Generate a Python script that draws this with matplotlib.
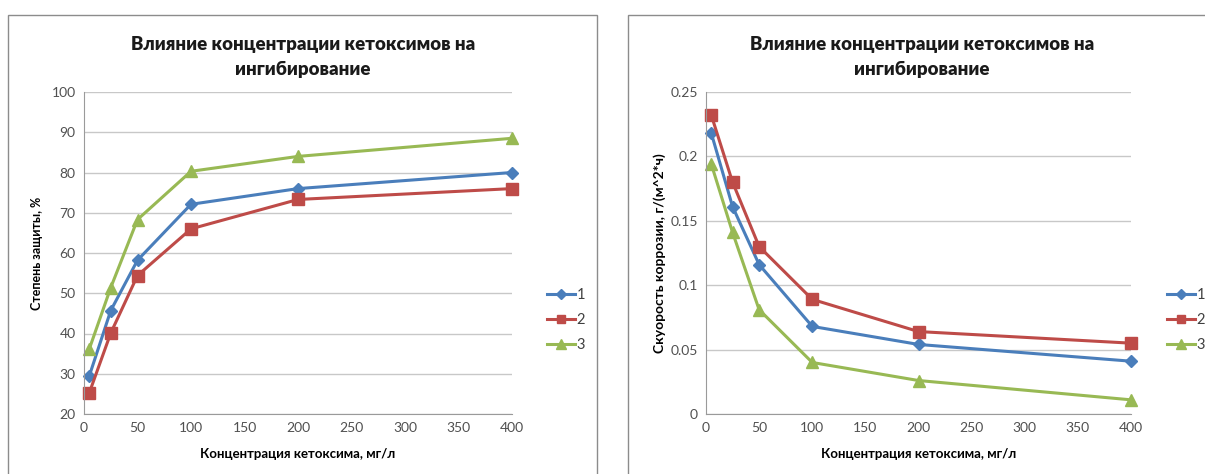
import matplotlib
matplotlib.use("Agg")
import matplotlib.pyplot as plt
from matplotlib.patches import Rectangle

plt.rcParams['font.family'] = ['Lato', 'DejaVu Sans']

# Concentration of ketoxime, mg/l
conc = [5, 25, 50, 100, 200, 400]

# Degree of protection, %
protect_1 = [29.5, 45.7, 58.2, 72.1, 76.0, 80.0]
protect_2 = [25.3, 40.1, 54.4, 66.0, 73.3, 76.0]
protect_3 = [36.2, 51.4, 68.3, 80.3, 84.0, 88.5]

# Corrosion rate, g/(m^2*h)
rate_1 = [0.218, 0.161, 0.116, 0.068, 0.054, 0.041]
rate_2 = [0.232, 0.180, 0.130, 0.089, 0.064, 0.055]
rate_3 = [0.194, 0.141, 0.081, 0.040, 0.026, 0.011]

series_names = ["1", "2", "3"]
x_ticks = [0, 50, 100, 150, 200, 250, 300, 350, 400]
protect_ticks = [20, 30, 40, 50, 60, 70, 80, 90, 100]
rate_ticks = [0, 0.05, 0.1, 0.15, 0.2, 0.25]
rate_tick_labels = ["0", "0.05", "0.1", "0.15", "0.2", "0.25"]

title = "Влияние концентрации кетоксимов на\nингибирование"
xlabel = "Концентрация кетоксима, мг/л"

colors = ["#4A7EBB", "#BE4B48", "#98B954"]
markers = ["D", "s", "^"]
msizes = [6.5, 8, 8.5]

W, H = 1205, 474
fig = plt.figure(figsize=(W / 100, H / 100), dpi=100)
fig.patch.set_facecolor("white")

# chart frames
for (x0, y0, x1, y1) in [(8, 15, 597, 480), (628, 15, 1210, 480)]:
    fig.add_artist(Rectangle((x0 / W, 1 - y1 / H), (x1 - x0) / W, (y1 - y0) / H,
                             transform=fig.transFigure, fill=False,
                             edgecolor="#8C8C8C", linewidth=1.0, clip_on=False))


def make_axes(px0, px1, py0, py1):
    return fig.add_axes([px0 / W, 1 - py1 / H, (px1 - px0) / W, (py1 - py0) / H])


def style(ax):
    for s in ["top", "right"]:
        ax.spines[s].set_visible(False)
    ax.spines["left"].set_color("#9A9A9A")
    ax.spines["bottom"].set_color("#9A9A9A")
    ax.grid(axis="y", color="#C8C8C8", linewidth=1.0)
    ax.set_axisbelow(True)
    ax.tick_params(length=0, labelsize=10, labelcolor="#505050", pad=6)
    ax.set_xlim(0, 400)
    ax.set_xticks(x_ticks)


def add_title(xc):
    fig.text(xc / W, 1 - 57 / H, title, ha="center", va="center", fontsize=13.4,
             fontweight="heavy", linespacing=1.55, color="#1A1A1A")


def add_legend(ax, xpix):
    leg = ax.legend(loc="center left", bbox_to_anchor=(xpix / W, 1 - 320 / H),
                    bbox_transform=fig.transFigure, frameon=False, fontsize=10.5,
                    handlelength=1.9, handletextpad=0.1, labelspacing=0.75,
                    borderpad=0, markerscale=0.8)
    for t in leg.get_texts():
        t.set_color("#404040")


ax1 = make_axes(84, 512, 92, 414)
style(ax1)
ax1.set_ylim(20, 100)
ax1.set_yticks(protect_ticks)
for y, c, m, ms, n in zip([protect_1, protect_2, protect_3], colors, markers, msizes, series_names):
    ax1.plot(conc, y, color=c, marker=m, markersize=ms, linewidth=2.2, label=n, clip_on=False)
ax1.set_xlabel(xlabel, fontsize=9.5, fontweight="bold", labelpad=10)
ax1.set_ylabel("Степень защиты, %", fontsize=9.0, fontweight="bold", labelpad=6)
add_title(303)
add_legend(ax1, 540)

ax2 = make_axes(706, 1131, 92, 414)
style(ax2)
ax2.set_ylim(0, 0.25)
ax2.set_yticks(rate_ticks)
ax2.set_yticklabels(rate_tick_labels)
for y, c, m, ms, n in zip([rate_1, rate_2, rate_3], colors, markers, msizes, series_names):
    ax2.plot(conc, y, color=c, marker=m, markersize=ms, linewidth=2.2, label=n, clip_on=False)
ax2.set_xlabel(xlabel, fontsize=9.5, fontweight="bold", labelpad=10)
ax2.set_ylabel("Скуорость коррозии, г/(м^2*ч)", fontsize=10.0, fontweight="bold", labelpad=3)
add_title(922)
add_legend(ax2, 1160)

fig.savefig("out.png", dpi=100)
